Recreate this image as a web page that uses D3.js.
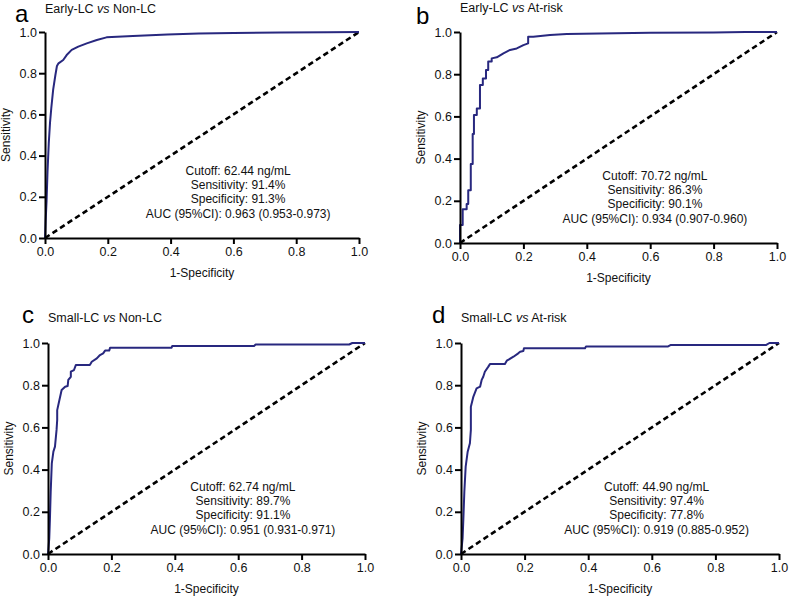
<!DOCTYPE html>
<html>
<head>
<meta charset="utf-8">
<script src="https://cdn.jsdelivr.net/npm/d3@7"></script>
<style>
  body { margin: 0; background: #fff; }
  svg { display: block; font-family: "Liberation Sans", Arial, sans-serif; }
</style>
</head>
<body>
<svg id="chart" width="790" height="604"></svg>
<script>
// ---------- data ----------
const panelLetters = ["a", "b", "c", "d"];
const groupA = ["Early-LC", "Early-LC", "Small-LC", "Small-LC"];
const groupB = ["Non-LC", "At-risk", "Non-LC", "At-risk"];
const cutoffs = ["62.44", "70.72", "62.74", "44.90"];
const sensitivities = ["91.4", "86.3", "89.7", "97.4"];
const specificities = ["91.3", "90.1", "91.1", "77.8"];
const aucs = ["0.963 (0.953-0.973)", "0.934 (0.907-0.960)", "0.951 (0.931-0.971)", "0.919 (0.885-0.952)"];
const tickValues = [0, 0.2, 0.4, 0.6, 0.8, 1.0];

const fprA = [0, 0.002, 0.005, 0.008, 0.012, 0.016, 0.02, 0.026, 0.033, 0.038, 0.043, 0.058, 0.069, 0.085, 0.106, 0.133, 0.165, 0.196, 0.28, 0.39, 0.49, 0.6, 0.75, 0.9, 1];
const tprA = [0, 0.08, 0.18, 0.32, 0.46, 0.56, 0.63, 0.72, 0.79, 0.835, 0.848, 0.864, 0.888, 0.913, 0.929, 0.945, 0.961, 0.974, 0.98, 0.988, 0.993, 0.995, 0.997, 0.999, 1];

const fprB = [0, 0, 0.0085, 0.0085, 0.021, 0.021, 0.026, 0.026, 0.034, 0.034, 0.04, 0.04, 0.044, 0.044, 0.053, 0.053, 0.063, 0.063, 0.072, 0.072, 0.082, 0.082, 0.089, 0.089, 0.1, 0.1, 0.116, 0.137, 0.158, 0.179, 0.2, 0.215, 0.215, 0.231, 0.284, 0.337, 0.44, 0.6, 0.8, 0.9, 1];
const tprB = [0, 0.085, 0.085, 0.16, 0.16, 0.185, 0.185, 0.25, 0.25, 0.374, 0.374, 0.517, 0.517, 0.607, 0.607, 0.638, 0.638, 0.749, 0.749, 0.78, 0.78, 0.82, 0.82, 0.86, 0.86, 0.875, 0.88, 0.899, 0.915, 0.922, 0.938, 0.946, 0.977, 0.977, 0.986, 0.99, 0.993, 0.996, 0.998, 1, 1];

const fprC = [0, 0.004, 0.006, 0.0085, 0.012, 0.017, 0.022, 0.027, 0.029, 0.029, 0.036, 0.043, 0.054, 0.062, 0.064, 0.072, 0.072, 0.082, 0.088, 0.132, 0.138, 0.154, 0.164, 0.174, 0.18, 0.193, 0.196, 0.39, 0.392, 0.65, 0.655, 0.95, 0.96, 1];
const tprC = [0, 0.074, 0.161, 0.295, 0.43, 0.485, 0.509, 0.588, 0.635, 0.682, 0.73, 0.777, 0.793, 0.796, 0.825, 0.84, 0.864, 0.872, 0.896, 0.896, 0.911, 0.927, 0.943, 0.951, 0.964, 0.964, 0.978, 0.978, 0.986, 0.986, 0.993, 0.993, 1, 1];

const fprD = [0, 0.005, 0.0073, 0.0105, 0.0147, 0.021, 0.028, 0.031, 0.031, 0.031, 0.039, 0.049, 0.06, 0.065, 0.07, 0.075, 0.086, 0.091, 0.138, 0.144, 0.165, 0.18, 0.186, 0.196, 0.198, 0.39, 0.393, 0.65, 0.66, 0.96, 0.97, 1];
const tprD = [0, 0.074, 0.161, 0.295, 0.414, 0.485, 0.525, 0.588, 0.635, 0.698, 0.746, 0.785, 0.793, 0.825, 0.84, 0.864, 0.888, 0.9, 0.9, 0.916, 0.935, 0.951, 0.959, 0.962, 0.975, 0.975, 0.983, 0.983, 0.991, 0.991, 1, 1];

const fprs = [fprA, fprB, fprC, fprD];
const tprs = [tprA, tprB, tprC, tprD];

// ---------- layout ----------
const boxes = [
  { x0: 45,  x1: 359, y0: 238, y1: 32,  letterX: 15,  letterY: 22 },
  { x0: 460, x1: 777, y0: 243, y1: 32,  letterX: 416, letterY: 24 },
  { x0: 48,  x1: 365, y0: 554, y1: 343, letterX: 22,  letterY: 323 },
  { x0: 461, x1: 779, y0: 554, y1: 343, letterX: 432, letterY: 323 }
];
const titleY = [13, 12, 322, 322];
const curveColor = "#28287f";

const svg = d3.select("#chart");

boxes.forEach((b, i) => {
  const x = d3.scaleLinear().domain([0, 1]).range([b.x0, b.x1]);
  const y = d3.scaleLinear().domain([0, 1]).range([b.y0, b.y1]);
  const g = svg.append("g");

  // panel letter
  g.append("text")
    .attr("x", b.letterX).attr("y", b.letterY)
    .attr("font-size", 24).attr("fill", "#000")
    .text(panelLetters[i]);

  // title
  const t = g.append("text")
    .attr("x", b.x0).attr("y", titleY[i])
    .attr("font-size", 12.5).attr("fill", "#111");
  t.append("tspan").text(groupA[i] + " ");
  t.append("tspan").attr("font-style", "italic").text("vs");
  t.append("tspan").text(" " + groupB[i]);

  // diagonal reference
  const diag = d3.line().x(d => x(d)).y(d => y(d));
  g.append("path")
    .attr("d", diag([0, 1]))
    .attr("fill", "none").attr("stroke", "#000")
    .attr("stroke-width", 2.6).attr("stroke-dasharray", "5.5,3.5");

  // ROC curve
  const pts = fprs[i].map((f, k) => [f, tprs[i][k]]);
  const line = d3.line().x(d => x(d[0])).y(d => y(d[1]));
  g.append("path")
    .attr("d", line(pts))
    .attr("fill", "none").attr("stroke", curveColor)
    .attr("stroke-width", 2).attr("stroke-linejoin", "round");

  // axes
  const fmt = d3.format(".1f");
  const ax = g.append("g").attr("transform", `translate(0,${b.y0})`)
    .call(d3.axisBottom(x).tickValues(tickValues).tickFormat(fmt).tickSize(6).tickSizeOuter(0).tickPadding(3));
  const ay = g.append("g").attr("transform", `translate(${b.x0},0)`)
    .call(d3.axisLeft(y).tickValues(tickValues).tickFormat(fmt).tickSize(6).tickSizeOuter(0).tickPadding(2));
  [ax, ay].forEach(a => {
    a.select(".domain").attr("stroke", "#000").attr("stroke-width", 2);
    a.selectAll(".tick line").attr("stroke", "#000").attr("stroke-width", 2);
    a.selectAll(".tick text").attr("font-size", 12.5).attr("fill", "#111")
      .attr("font-family", "Liberation Sans, Arial, sans-serif");
  });

  // axis titles
  g.append("text")
    .attr("transform", `translate(${b.x0 - 35},${(b.y0 + b.y1) / 2}) rotate(-90)`)
    .attr("text-anchor", "middle").attr("font-size", 12).attr("fill", "#111")
    .text("Sensitivity");
  g.append("text")
    .attr("x", (b.x0 + b.x1) / 2).attr("y", b.y0 + 39)
    .attr("text-anchor", "middle").attr("font-size", 12).attr("fill", "#111")
    .text("1-Specificity");

  // annotation
  const cx = x(0.615);
  const lines = [
    "Cutoff: " + cutoffs[i] + " ng/mL",
    "Sensitivity: " + sensitivities[i] + "%",
    "Specificity: " + specificities[i] + "%",
    "AUC (95%CI): " + aucs[i]
  ];
  lines.forEach((s, k) => {
    g.append("text")
      .attr("x", cx).attr("y", b.y0 - 20.5 - (3 - k) * 14.2)
      .attr("text-anchor", "middle").attr("font-size", 12).attr("fill", "#111")
      .text(s);
  });
});
</script>
</body>
</html>
